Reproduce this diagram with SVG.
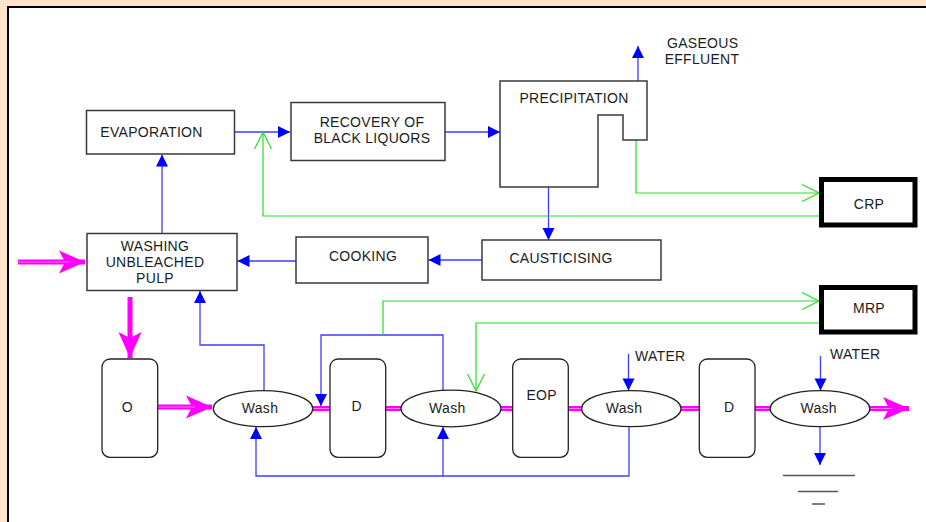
<svg xmlns="http://www.w3.org/2000/svg" width="926" height="522" viewBox="0 0 926 522">
  <style>
    .box { fill: #ffffff; stroke: #3a3a3a; stroke-width: 1.5; }
    .vessel { fill: #ffffff; stroke: #222222; stroke-width: 1.3; }
    .wash { fill: #ffffff; stroke: #222222; stroke-width: 1.3; }
    .plant { fill: #ffffff; stroke: #000000; stroke-width: 5; }
    .lbl { font-family: "Liberation Sans", Arial, sans-serif; font-size: 14px; letter-spacing: 0.3px; fill: #1c1c1c; text-anchor: middle; }
    .lbl-start { font-family: "Liberation Sans", Arial, sans-serif; font-size: 14px; letter-spacing: 0.3px; fill: #1c1c1c; text-anchor: start; }
    .liquor { fill: none; stroke: #3c3cff; stroke-width: 1.3; }
    .recycle { fill: none; stroke: #22e022; stroke-width: 1.2; }
    .pulp { fill: none; stroke: #ff00ff; stroke-width: 5; }
    .pulp-core { fill: none; stroke: #ff70ff; stroke-width: 1.2; }
    .drain { stroke: #555555; stroke-width: 1.5; }
  </style>
  <defs>
    <marker id="arrowBlue" markerUnits="userSpaceOnUse" markerWidth="14" markerHeight="14" refX="12" refY="6" orient="auto" overflow="visible">
      <path d="M0,0 L12,6 L0,12 z" fill="#0000ff"/>
    </marker>
    <marker id="arrowGreen" markerUnits="userSpaceOnUse" markerWidth="20" markerHeight="20" refX="17" refY="8.5" orient="auto" overflow="visible">
      <path d="M0,0 L17,8.5 L0,17" fill="none" stroke="#22e022" stroke-width="1.2"/>
    </marker>
    <marker id="arrowPink" markerUnits="userSpaceOnUse" markerWidth="28" markerHeight="26" refX="26" refY="11.5" orient="auto" overflow="visible">
      <path d="M0,0 L26,11.5 L0,23 L6,11.5 z" fill="#ff00ff"/>
    </marker>
  </defs>

  <!-- page frame -->
  <rect x="0" y="0" width="926" height="522" fill="#ffe4cb"/>
  <rect x="9" y="8" width="917" height="514" fill="#ffffff"/>
  <path d="M8,522 V7 H926" fill="none" stroke="#000000" stroke-width="2"/>

  <!-- connectors -->
  <g id="connectors">
    <!-- pulp line (magenta) -->
    <g id="pulp-flow">
      <path class="pulp" d="M18,262 H85" marker-end="url(#arrowPink)"/>
      <path class="pulp" d="M130,297 V358" marker-end="url(#arrowPink)"/>
      <path class="pulp" d="M158,407 H212" marker-end="url(#arrowPink)"/>
      <path class="pulp" d="M870,408.5 H909" marker-end="url(#arrowPink)"/>
      <path class="pulp" d="M313,408.5 H330 M386,408.5 H401 M501,408.5 H513 M568,408.5 H582 M681,408.5 H699 M755,408.5 H770"/>
      <path class="pulp-core" d="M313,408.5 H330 M386,408.5 H401 M501,408.5 H513 M568,408.5 H582 M681,408.5 H699 M755,408.5 H770 M18,262 H70 M158,407 H195 M870,408.5 H892"/>
    </g>
    <!-- liquor / filtrate lines (blue) -->
    <g id="liquor-flow">
      <path class="liquor" d="M235,132 H290" marker-end="url(#arrowBlue)"/>
      <path class="liquor" d="M445,132 H500" marker-end="url(#arrowBlue)"/>
      <path class="liquor" d="M638,81 V46" marker-end="url(#arrowBlue)"/>
      <path class="liquor" d="M548.5,187 V240" marker-end="url(#arrowBlue)"/>
      <path class="liquor" d="M482,260 H428.5" marker-end="url(#arrowBlue)"/>
      <path class="liquor" d="M296,261 H237.5" marker-end="url(#arrowBlue)"/>
      <path class="liquor" d="M162,233 V154.5" marker-end="url(#arrowBlue)"/>
      <path class="liquor" d="M264,390.5 V345 H200 V291" marker-end="url(#arrowBlue)"/>
      <path class="liquor" d="M443,390 V335 H321 V406" marker-end="url(#arrowBlue)"/>
      <path class="liquor" d="M629,427 V476 H256 V427" marker-end="url(#arrowBlue)"/>
      <path class="liquor" d="M443,476 V427" marker-end="url(#arrowBlue)"/>
      <path class="liquor" d="M628.5,354 V390.5" marker-end="url(#arrowBlue)"/>
      <path class="liquor" d="M820.5,356 V390.5" marker-end="url(#arrowBlue)"/>
      <path class="liquor" d="M820,427 V465" marker-end="url(#arrowBlue)"/>
    </g>
    <!-- recovery returns (green) -->
    <g id="recovery-flow">
      <path class="recycle" d="M819,216 H263 V132" marker-end="url(#arrowGreen)"/>
      <path class="recycle" d="M636,140 V193 H819" marker-end="url(#arrowGreen)"/>
      <path class="recycle" d="M383,335 V301 H819" marker-end="url(#arrowGreen)"/>
      <path class="recycle" d="M819,323 H476 V391" marker-end="url(#arrowGreen)"/>
    </g>
    <!-- effluent ground symbol -->
    <g id="ground">
      <line class="drain" x1="783" y1="475.5" x2="855" y2="475.5"/>
      <line class="drain" x1="798" y1="491.5" x2="838" y2="491.5"/>
      <line class="drain" x1="812" y1="504" x2="825" y2="504"/>
    </g>
  </g>

  <!-- nodes -->
  <g id="evaporation">
    <rect class="box" x="86.5" y="110.5" width="148" height="43.5"/>
    <text class="lbl" x="151.5" y="137">EVAPORATION</text>
  </g>
  <g id="recovery">
    <rect class="box" x="291" y="102.5" width="154" height="58"/>
    <text class="lbl" x="372" y="127.3">RECOVERY OF</text>
    <text class="lbl" x="372" y="143.3">BLACK LIQUORS</text>
  </g>
  <g id="precipitation">
    <path class="box" d="M500,81 H647 V140 H623 V115 H598 V187 H500 Z"/>
    <text class="lbl" x="574" y="103.3">PRECIPITATION</text>
  </g>
  <g id="gaseous-effluent">
    <text class="lbl" x="702.7" y="48">GASEOUS</text>
    <text class="lbl" x="702" y="64">EFFLUENT</text>
  </g>
  <g id="crp">
    <rect class="plant" x="821.5" y="179.5" width="93.5" height="45.5"/>
    <text class="lbl" x="869" y="208.5">CRP</text>
  </g>
  <g id="mrp">
    <rect class="plant" x="821.5" y="287.5" width="93.5" height="44.5"/>
    <text class="lbl" x="869" y="313">MRP</text>
  </g>
  <g id="washing-unbleached">
    <rect class="box" x="87" y="233.5" width="150" height="57"/>
    <text class="lbl" x="155" y="250.7">WASHING</text>
    <text class="lbl" x="155" y="266.7">UNBLEACHED</text>
    <text class="lbl" x="155" y="282.7">PULP</text>
  </g>
  <g id="cooking">
    <rect class="box" x="296" y="237" width="132" height="46"/>
    <text class="lbl" x="363" y="261">COOKING</text>
  </g>
  <g id="causticising">
    <rect class="box" x="482" y="240" width="179" height="40"/>
    <text class="lbl" x="561" y="263.3">CAUSTICISING</text>
  </g>
  <g id="stage-o">
    <rect class="vessel" x="102" y="359" width="55.7" height="98.3" rx="8"/>
    <text class="lbl" x="127.3" y="411.7">O</text>
  </g>
  <g id="wash-1">
    <ellipse class="wash" cx="263" cy="408.7" rx="49.7" ry="18"/>
    <text class="lbl" x="260" y="412.5">Wash</text>
  </g>
  <g id="stage-d1">
    <rect class="vessel" x="330" y="359" width="55.7" height="98.3" rx="8"/>
    <text class="lbl" x="356.7" y="411.3">D</text>
  </g>
  <g id="wash-2">
    <ellipse class="wash" cx="451" cy="408.5" rx="50" ry="18.3"/>
    <text class="lbl" x="447.3" y="412.7">Wash</text>
  </g>
  <g id="stage-eop">
    <rect class="vessel" x="512.7" y="359" width="55.6" height="98.3" rx="8"/>
    <text class="lbl" x="541.7" y="400.3">EOP</text>
  </g>
  <g id="wash-3">
    <ellipse class="wash" cx="631.3" cy="408.7" rx="49.7" ry="18"/>
    <text class="lbl" x="624" y="413.3">Wash</text>
  </g>
  <g id="water-1">
    <text class="lbl-start" x="635" y="361">WATER</text>
  </g>
  <g id="stage-d2">
    <rect class="vessel" x="699.3" y="359" width="55.7" height="98.3" rx="8"/>
    <text class="lbl" x="729.3" y="411.7">D</text>
  </g>
  <g id="wash-4">
    <ellipse class="wash" cx="820" cy="408.7" rx="49.8" ry="18"/>
    <text class="lbl" x="818.7" y="413.3">Wash</text>
  </g>
  <g id="water-2">
    <text class="lbl-start" x="830" y="359.3">WATER</text>
  </g>
</svg>
